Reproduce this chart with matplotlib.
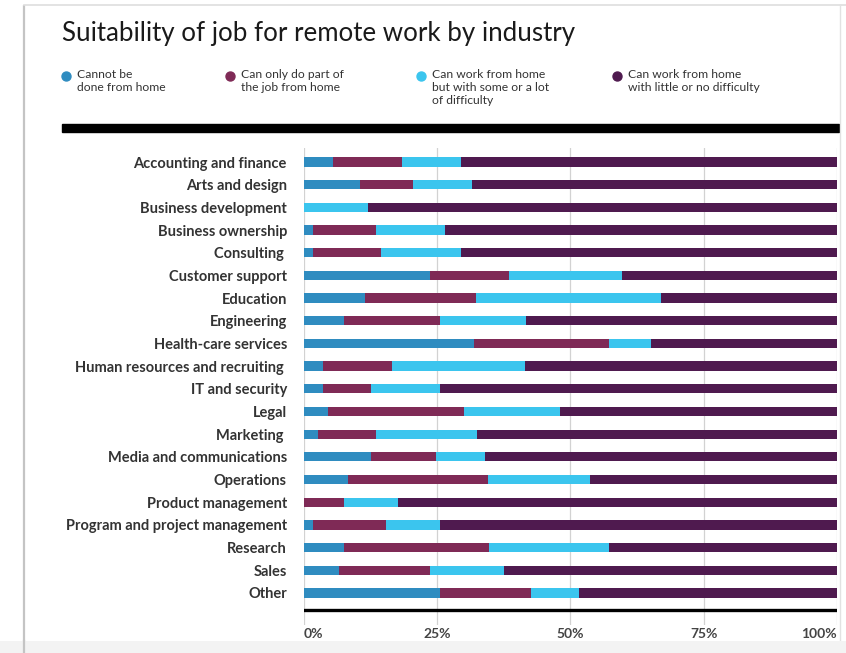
import matplotlib
matplotlib.use("Agg")
import matplotlib.pyplot as plt
import numpy as np

industries = [
    "Accounting and finance", "Arts and design", "Business development",
    "Business ownership", "Consulting ", "Customer support", "Education",
    "Engineering", "Health-care services", "Human resources and recruiting ",
    "IT and security", "Legal", "Marketing ", "Media and communications",
    "Operations", "Product management", "Program and project management",
    "Research", "Sales", "Other",
]
cannot = [5.6, 10.6, 0.0, 1.7, 1.7, 23.7, 11.5, 7.6, 32.0, 3.6,
          3.6, 4.6, 2.7, 12.6, 8.4, 0.0, 1.7, 7.6, 6.6, 25.6]
partial = [12.9, 10.0, 0.0, 11.8, 12.9, 14.8, 20.8, 18.0, 25.2, 13.0,
           9.1, 25.4, 10.9, 12.3, 26.1, 7.6, 13.8, 27.2, 17.1, 17.0]
difficult = [11.0, 11.0, 12.0, 13.1, 15.0, 21.2, 34.7, 16.1, 8.0, 25.0,
             12.9, 18.1, 19.0, 9.1, 19.1, 10.1, 10.1, 22.4, 13.8, 9.0]
easy = [70.5, 68.4, 88.0, 73.4, 70.4, 40.3, 33.0, 58.3, 34.8, 58.4,
        74.4, 51.9, 67.4, 66.0, 46.4, 82.3, 74.4, 42.8, 62.5, 48.4]

series_labels = [
    "Cannot be\ndone from home",
    "Can only do part of\nthe job from home",
    "Can work from home\nbut with some or a lot\nof difficulty",
    "Can work from home\nwith little or no difficulty",
]
colors = ["#2f8cc0", "#7f2a56", "#3bc5ee", "#4f1a4f"]
tick_vals = [0, 25, 50, 75, 100]
tick_text = ["0%", "25%", "50%", "75%", "100%"]

W, H = 846, 653
fig = plt.figure(figsize=(W / 100, H / 100), dpi=100)
fig.patch.set_facecolor("white")

def px(x0, y0, x1, y1):
    return [x0 / W, 1 - y1 / H, (x1 - x0) / W, (y1 - y0) / H]

# page overlay in pixel coordinates
bg = fig.add_axes([0, 0, 1, 1])
bg.set_xlim(0, W)
bg.set_ylim(H, 0)
bg.axis("off")
bg.set_zorder(0)

# card frame
bg.plot([24, 24], [5, H], color="#c4c4c4", lw=1.6, solid_capstyle="butt")
bg.plot([24, 846], [5, 5], color="#dedede", lw=1.2)
bg.plot([840, 840], [5, 645], color="#e2e2e2", lw=1.0)

bg.text(62, 33, "Suitability of job for remote work by industry",
        fontsize=18.6, family="Lato", color="#1a1a1a", va="center", ha="left")

leg_x = [66, 230, 421, 617]
for lx, lab, c in zip(leg_x, series_labels, colors):
    bg.scatter([lx], [76], s=42, color=c, zorder=3)
    bg.text(lx + 11, 69, lab, fontsize=8.7, family="Lato", color="#333333",
            va="top", ha="left", linespacing=1.2)

# heavy rule under the legend
bg.add_patch(plt.Rectangle((62, 124), 777, 8, color="black"))

# main chart
row0, row_step = 162, 22.68
top_px, bot_px = 148, 625
ax = fig.add_axes(px(303.6, top_px, 837, bot_px))
ax.set_zorder(1)
ax.patch.set_alpha(0)
ax.set_xlim(0, 100)
ax.set_ylim((bot_px - row0) / row_step, (top_px - row0) / row_step)

y = np.arange(len(industries))
left = np.zeros(len(industries))
for vals, c in zip([cannot, partial, difficult, easy], colors):
    vals = np.array(vals)
    ax.barh(y, vals, left=left, height=0.41, color=c, zorder=2)
    left += vals

for v in tick_vals:
    ax.axvline(v, color="#d2d2d2", lw=0.9, zorder=1)
ax.axhline((610 - row0) / row_step, color="black", lw=2.4, zorder=3)

ax.set_yticks(y)
ax.set_yticklabels(industries, fontsize=10.5, family="Lato", fontweight="bold",
                   color="#333333")
ax.tick_params(axis="y", length=0, pad=12)
ax.set_xticks(tick_vals)
ax.set_xticklabels(tick_text, fontsize=10, family="Lato", fontweight="bold",
                   color="#444444")
ax.tick_params(axis="x", length=0, pad=2)
xt = ax.get_xticklabels()
xt[0].set_ha("left")
xt[-1].set_ha("right")
for s in ax.spines.values():
    s.set_visible(False)

# bottom edge of the card
top = fig.add_axes([0, 0, 1, 1])
top.set_xlim(0, W)
top.set_ylim(H, 0)
top.axis("off")
top.set_zorder(5)
top.add_patch(plt.Rectangle((0, 641), W, 12, color="#f3f3f3", lw=0))
top.plot([24, 24], [641, H], color="#c4c4c4", lw=1.6)

fig.savefig("out.png", dpi=100)
